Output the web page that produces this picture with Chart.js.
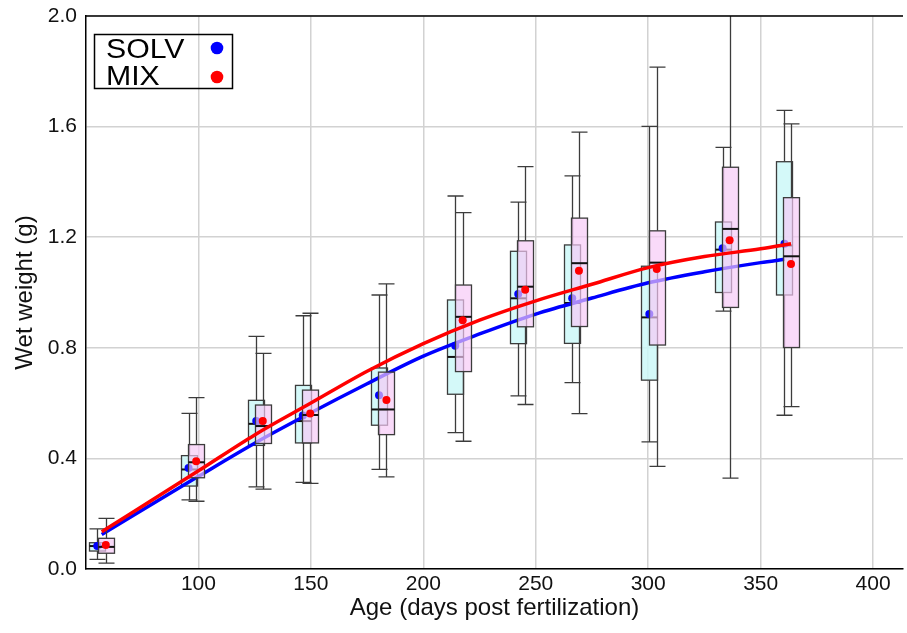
<!DOCTYPE html>
<html>
<head>
<meta charset="utf-8">
<script src="https://cdn.jsdelivr.net/npm/chart.js@4.4.1/dist/chart.umd.min.js"></script>
<style>
  html, body { margin: 0; padding: 0; background: #fff; }
  canvas { display: block; }
</style>
</head>
<body>
<canvas id="chart" width="907" height="633"></canvas>
<script>
// ---- data (wet weight in g, age in days) ----
const solvDays = [55, 95.6, 125.7, 146.4, 180.3, 214.2, 242.2, 266.2, 300.5, 333.1, 360.6];
const solvMin  = [0.035, 0.25, 0.297, 0.313, 0.36, 0.493, 0.626, 0.674, 0.46, 0.933, 0.556];
const solvQ1   = [0.065, 0.30, 0.447, 0.456, 0.52, 0.632, 0.815, 0.816, 0.683, 1.0, 0.991];
const solvMed  = [0.083, 0.36, 0.525, 0.535, 0.577, 0.767, 0.979, 0.962, 0.91, 1.155, 1.17];
const solvQ3   = [0.095, 0.41, 0.61, 0.664, 0.727, 0.973, 1.149, 1.172, 1.095, 1.255, 1.473];
const solvMax  = [0.145, 0.563, 0.841, 0.916, 0.991, 1.349, 1.327, 1.422, 1.601, 1.525, 1.659];
const solvMean = [0.083, 0.365, 0.535, 0.555, 0.628, 0.807, 0.995, 0.979, 0.922, 1.16, 1.176];

const mixDays = [58.8, 99, 128.6, 149.7, 183.6, 217.5, 245.3, 269.2, 303.8, 336.2, 363.5];
const mixMin  = [0.021, 0.245, 0.289, 0.31, 0.333, 0.462, 0.595, 0.562, 0.371, 0.329, 0.587];
const mixQ1   = [0.057, 0.33, 0.454, 0.456, 0.486, 0.714, 0.876, 0.877, 0.81, 0.946, 0.801];
const mixMed  = [0.08, 0.386, 0.517, 0.557, 0.577, 0.912, 1.021, 1.106, 1.108, 1.23, 1.131];
const mixQ3   = [0.111, 0.45, 0.593, 0.647, 0.712, 1.027, 1.187, 1.269, 1.223, 1.453, 1.343];
const mixMax  = [0.183, 0.62, 0.78, 0.925, 1.031, 1.289, 1.455, 1.58, 1.815, 2.05, 1.61];
const mixMean = [0.087, 0.39, 0.535, 0.562, 0.611, 0.9, 1.01, 1.079, 1.085, 1.189, 1.103];

// fitted growth curves
const solvFitDays = [57, 100, 125, 150, 175, 200, 225, 250, 275, 300, 325, 350, 360.6];
const solvFit     = [0.125, 0.335, 0.455, 0.565, 0.67, 0.77, 0.85, 0.922, 0.98, 1.035, 1.075, 1.108, 1.12];
const mixFitDays  = [57, 100, 125, 150, 175, 200, 225, 250, 275, 300, 325, 350, 363.5];
const mixFit      = [0.135, 0.355, 0.485, 0.6, 0.715, 0.815, 0.9, 0.97, 1.03, 1.09, 1.13, 1.158, 1.176];

const xTicks = [100, 150, 200, 250, 300, 350, 400];
const seriesNames = ["SOLV", "MIX"];

const FONT = "'Liberation Sans', Arial, Helvetica, sans-serif";
const BOX_W = 16;

const pts = (xs, ys) => xs.map((x, i) => ({ x: x, y: ys[i] }));

function drawBoxes(chart, days, lo, q1, med, q3, hi, fill) {
  const { ctx, chartArea, scales: { x, y } } = chart;
  const h = BOX_W / 2;
  ctx.save();
  ctx.beginPath();
  ctx.rect(chartArea.left, chartArea.top, chartArea.right - chartArea.left, chartArea.bottom - chartArea.top);
  ctx.clip();
  ctx.strokeStyle = "#3c3c3c";
  days.forEach((d, i) => {
    const cx = Math.round(x.getPixelForValue(d)) + 0.5;
    const yLo = y.getPixelForValue(lo[i]);
    const yQ1 = y.getPixelForValue(q1[i]);
    const yMed = y.getPixelForValue(med[i]);
    const yQ3 = y.getPixelForValue(q3[i]);
    const yHi = y.getPixelForValue(hi[i]);
    ctx.lineWidth = 1.3;
    ctx.beginPath();
    ctx.moveTo(cx, yLo); ctx.lineTo(cx, yQ1);
    ctx.moveTo(cx, yQ3); ctx.lineTo(cx, yHi);
    ctx.moveTo(cx - h, yLo); ctx.lineTo(cx + h, yLo);
    ctx.moveTo(cx - h, yHi); ctx.lineTo(cx + h, yHi);
    ctx.stroke();
    ctx.fillStyle = fill;
    ctx.fillRect(cx - h, yQ3, BOX_W, yQ1 - yQ3);
    ctx.strokeRect(cx - h, yQ3, BOX_W, yQ1 - yQ3);
    ctx.lineWidth = 2;
    ctx.strokeStyle = "#111";
    ctx.beginPath();
    ctx.moveTo(cx - h, yMed); ctx.lineTo(cx + h, yMed);
    ctx.stroke();
    ctx.strokeStyle = "#3c3c3c";
  });
  ctx.restore();
}

const boxPlugin = {
  id: "boxes",
  beforeDatasetsDraw(chart) {
    drawBoxes(chart, solvDays, solvMin, solvQ1, solvMed, solvQ3, solvMax, "rgba(205, 248, 248, 0.85)");
  },
  beforeDatasetDraw(chart, args) {
    if (args.index === 2) {
      drawBoxes(chart, mixDays, mixMin, mixQ1, mixMed, mixQ3, mixMax, "rgba(246, 200, 246, 0.68)");
    }
  },
  afterDraw(chart) {
    const { ctx, chartArea } = chart;
    ctx.save();
    // top frame line
    ctx.strokeStyle = "#000";
    ctx.lineWidth = 1.5;
    ctx.beginPath();
    ctx.moveTo(chartArea.left, chartArea.top);
    ctx.lineTo(chartArea.right, chartArea.top);
    ctx.stroke();
    // legend box
    const lx = chartArea.left + 8.5, ly = chartArea.top + 18.5;
    ctx.lineWidth = 1.5;
    ctx.strokeRect(lx, ly, 138, 54);
    ctx.fillStyle = "#000";
    ctx.font = "27px " + FONT;
    ctx.textBaseline = "alphabetic";
    const colors = ["#0000ff", "#ff0000"];
    seriesNames.forEach((name, i) => {
      ctx.save();
      ctx.translate(lx + 11.5, ly + 23 + i * 27.5);
      ctx.scale(1.12, 1);
      ctx.fillText(name, 0, 0);
      ctx.restore();
      ctx.fillStyle = colors[i];
      ctx.beginPath();
      ctx.arc(lx + 122.5, ly + 13.5 + i * 29, 6.3, 0, Math.PI * 2);
      ctx.fill();
      ctx.fillStyle = "#000";
    });
    ctx.restore();
  }
};

new Chart(document.getElementById("chart"), {
  type: "scatter",
  data: {
    datasets: [
      {
        label: "SOLV mean",
        data: pts(solvDays, solvMean),
        backgroundColor: "#0000ff",
        borderWidth: 0,
        pointRadius: 4,
        order: 5
      },
      {
        type: "line",
        label: "SOLV fit",
        data: pts(solvFitDays, solvFit),
        borderColor: "#0000ff",
        borderWidth: 3.5,
        pointRadius: 0,
        cubicInterpolationMode: "monotone",
        fill: false,
        order: 4
      },
      {
        type: "line",
        label: "MIX fit",
        data: pts(mixFitDays, mixFit),
        borderColor: "#ff0000",
        borderWidth: 3.5,
        pointRadius: 0,
        cubicInterpolationMode: "monotone",
        fill: false,
        order: 2
      },
      {
        label: "MIX mean",
        data: pts(mixDays, mixMean),
        backgroundColor: "#ff0000",
        borderWidth: 0,
        pointRadius: 4,
        order: 1
      }
    ]
  },
  options: {
    responsive: false,
    devicePixelRatio: 1,
    animation: false,
    layout: { padding: { top: 16, right: 0, left: 0, bottom: 0 } },
    plugins: {
      legend: { display: false },
      tooltip: { enabled: false }
    },
    scales: {
      x: {
        type: "linear",
        min: 50,
        max: 413.3,
        afterBuildTicks: (scale) => { scale.ticks = xTicks.map(v => ({ value: v })); },
        afterFit: (scale) => { scale.height = 64; scale.paddingRight = 0; scale.paddingLeft = 0; },
        grid: { color: "#d2d2d2", lineWidth: 1.5, drawTicks: false },
        border: { color: "#000", width: 1.5 },
        ticks: {
          padding: 3,
          color: "#111",
          font: { family: FONT, size: 21 }
        },
        title: {
          display: true,
          text: "Age (days post fertilization)",
          color: "#111",
          font: { family: FONT, size: 24 },
          padding: { top: 0, bottom: 10 }
        }
      },
      y: {
        min: 0,
        max: 2,
        afterFit: (scale) => { scale.width = 86; scale.paddingTop = 0; scale.paddingBottom = 0; },
        grid: { color: "#d2d2d2", lineWidth: 1.5, drawTicks: false },
        border: { color: "#000", width: 1.5 },
        ticks: {
          stepSize: 0.4,
          padding: 9,
          color: "#111",
          font: { family: FONT, size: 21 },
          callback: (v) => Number(v).toFixed(1)
        },
        title: {
          display: true,
          text: "Wet weight (g)",
          color: "#111",
          font: { family: FONT, size: 24 },
          padding: { top: 11, bottom: 0 }
        }
      }
    }
  },
  plugins: [boxPlugin]
});
</script>
</body>
</html>
